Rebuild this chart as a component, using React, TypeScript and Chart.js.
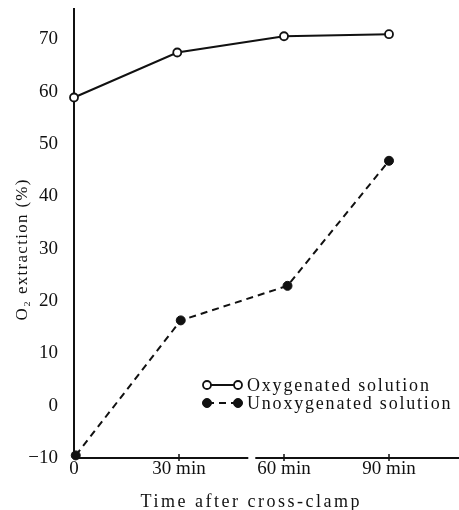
import React, { useEffect, useRef } from "react";
import { Chart, registerables } from "chart.js";

Chart.register(...registerables);

// ---- data ----
const OXY_TIMES = [0, 29.5, 60, 90];
const OXY_VALUES = [58.9, 67.5, 70.6, 71.0];
const UNOX_TIMES = [0.5, 30.5, 61, 90];
const UNOX_VALUES = [-9.5, 16.3, 22.9, 46.8];
const X_TICKS = [0, 30, 60, 90];
const X_TICK_LABELS = ["0", "30 min", "60 min", "90 min"];
const Y_TICKS = [-10, 0, 10, 20, 30, 40, 50, 60, 70];
const SERIES_NAMES = ["Oxygenated solution", "Unoxygenated solution"];
const X_TITLE = "Time after cross-clamp";
const Y_TITLE = "O\u2082 extraction (%)";
const AXIS_BREAK = [49.8, 51.8];

const INK = "#111";
const FONT = "'Liberation Serif', 'Times New Roman', serif";

function spacedText(ctx: CanvasRenderingContext2D, text: string, x: number, y: number, spacing: number) {
  (ctx as any).letterSpacing = spacing + "px";
  const w = ctx.measureText(text).width - spacing;
  ctx.fillText(text, x - w / 2, y);
  (ctx as any).letterSpacing = "0px";
}

const decor = {
  id: "decor",
  beforeDatasetsDraw(chart: any) {
    const { ctx, chartArea: a, scales } = chart;
    const x = scales.x;
    ctx.save();
    ctx.strokeStyle = INK;
    ctx.lineWidth = 2;
    ctx.beginPath();
    ctx.moveTo(a.left, a.top);
    ctx.lineTo(a.left, a.bottom + 1);
    ctx.stroke();
    const b0 = x.getPixelForValue(AXIS_BREAK[0]);
    const b1 = x.getPixelForValue(AXIS_BREAK[1]);
    ctx.beginPath();
    ctx.moveTo(a.left, a.bottom);
    ctx.lineTo(b0, a.bottom);
    ctx.moveTo(b1, a.bottom);
    ctx.lineTo(a.right, a.bottom);
    ctx.stroke();
    ctx.lineWidth = 1.5;
    X_TICKS.forEach((t) => {
      if (t === 0) return;
      const px = x.getPixelForValue(t);
      ctx.beginPath();
      ctx.moveTo(px, a.bottom - 4);
      ctx.lineTo(px, a.bottom + 3);
      ctx.stroke();
    });
    ctx.restore();
  },
  afterDatasetsDraw(chart: any) {
    const { ctx } = chart;
    ctx.save();
    ctx.fillStyle = INK;
    ctx.textBaseline = "alphabetic";
    // x title
    ctx.font = "18px " + FONT;
    spacedText(ctx, X_TITLE, 250, 507, 2.5);
    // y title
    ctx.save();
    ctx.translate(27, 250);
    ctx.rotate(-Math.PI / 2);
    ctx.font = "17px " + FONT;
    spacedText(ctx, Y_TITLE, 0, 0, 1.3);
    ctx.restore();
    // legend
    const rows = [385, 403];
    const x0 = 207;
    const x1 = 238;
    chart.data.datasets.forEach((ds: any, i: number) => {
      const yy = rows[i];
      ctx.strokeStyle = INK;
      ctx.lineWidth = 2;
      ctx.setLineDash(ds.borderDash || []);
      ctx.beginPath();
      ctx.moveTo(x0, yy);
      ctx.lineTo(x1, yy);
      ctx.stroke();
      ctx.setLineDash([]);
      [x0, x1].forEach((px) => {
        ctx.beginPath();
        ctx.arc(px, yy, ds.pointRadius, 0, Math.PI * 2);
        ctx.fillStyle = ds.pointBackgroundColor;
        ctx.fill();
        ctx.lineWidth = ds.pointBorderWidth;
        ctx.strokeStyle = INK;
        ctx.stroke();
      });
      ctx.fillStyle = INK;
      ctx.font = "18px " + FONT;
      ctx.textBaseline = "middle";
      (ctx as any).letterSpacing = "1.8px";
      ctx.textAlign = "left";
      ctx.fillText(SERIES_NAMES[i], 247, yy + 1);
      (ctx as any).letterSpacing = "0px";
    });
    ctx.restore();
  },
};

export default function App() {
  const ref = useRef<HTMLCanvasElement | null>(null);
  useEffect(() => {
    if (!ref.current) return;
    const chart = new Chart(ref.current, {
      type: "line",
      data: {
        datasets: [
          {
            label: SERIES_NAMES[0],
            data: OXY_TIMES.map((t, i) => ({ x: t, y: OXY_VALUES[i] })),
            borderColor: INK,
            borderWidth: 2,
            pointRadius: 4,
            pointBackgroundColor: "#fff",
            pointBorderColor: INK,
            pointBorderWidth: 1.8,
            tension: 0,
          },
          {
            label: SERIES_NAMES[1],
            data: UNOX_TIMES.map((t, i) => ({ x: t, y: UNOX_VALUES[i] })),
            borderColor: INK,
            borderWidth: 2,
            borderDash: [7, 5],
            pointRadius: 4.5,
            pointBackgroundColor: INK,
            pointBorderColor: INK,
            pointBorderWidth: 1,
            tension: 0,
          },
        ] as any,
      },
      options: {
        animation: false,
        responsive: false,
        clip: false as any,
        layout: { autoPadding: false, padding: { top: 8, right: 0, left: 0, bottom: 0 } },
        plugins: { legend: { display: false }, tooltip: { enabled: false } },
        scales: {
          x: {
            type: "linear",
            min: 0,
            max: 110,
            grid: { display: false, drawTicks: false },
            border: { display: false },
            afterBuildTicks: (s: any) => {
              s.ticks = X_TICKS.map((v) => ({ value: v }));
            },
            afterFit: (s: any) => {
              s.height = 52;
              s.paddingLeft = 0;
              s.paddingRight = 0;
            },
            ticks: {
              color: INK,
              font: { family: FONT, size: 19 },
              padding: 0,
              maxRotation: 0,
              autoSkip: false,
              callback: (v: any) => {
                const i = X_TICKS.indexOf(Number(v));
                return i >= 0 ? X_TICK_LABELS[i] : "";
              },
            },
          },
          y: {
            type: "linear",
            min: -10,
            max: 76,
            grid: { display: false, drawTicks: false },
            border: { display: false },
            afterBuildTicks: (s: any) => {
              s.ticks = Y_TICKS.map((v) => ({ value: v }));
            },
            afterFit: (s: any) => {
              s.width = 74;
              s.paddingTop = 0;
              s.paddingBottom = 0;
            },
            ticks: {
              color: INK,
              font: { family: FONT, size: 19 },
              padding: 16,
              autoSkip: false,
              callback: (v: any) => (Number(v) < 0 ? "\u2212" + Math.abs(Number(v)) : String(v)),
            },
          },
        },
      },
      plugins: [decor],
    });
    return () => chart.destroy();
  }, []);
  return (
    <div style={{ position: "absolute", left: 0, top: 0, width: 459, height: 510, background: "#fff" }}>
      <canvas ref={ref} width={459} height={510} />
    </div>
  );
}
